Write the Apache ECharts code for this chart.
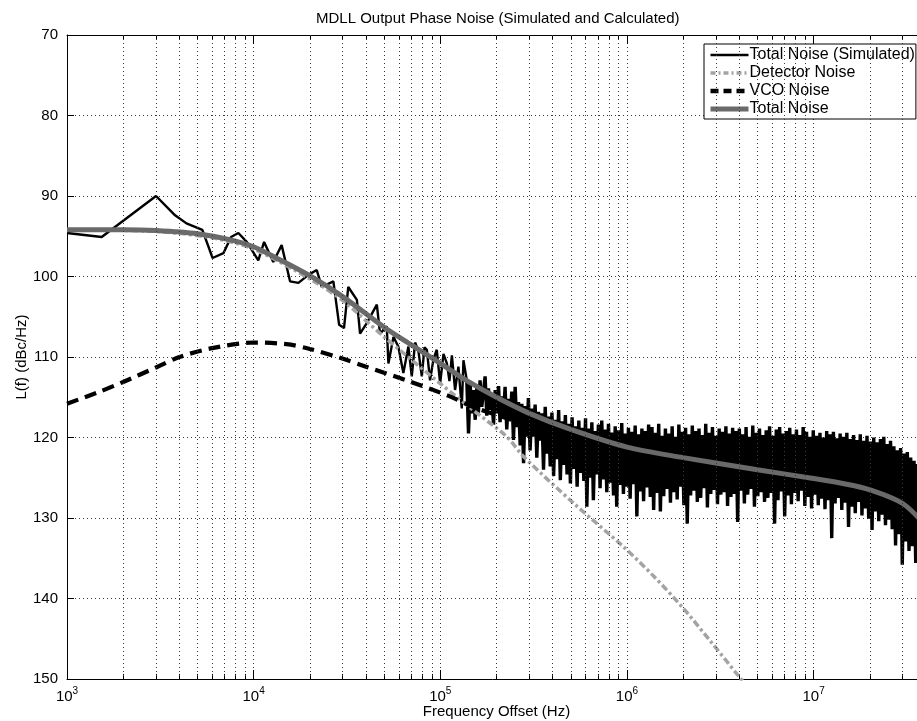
<!DOCTYPE html>
<html><head><meta charset="utf-8">
<script src="https://cdn.jsdelivr.net/npm/echarts@6/dist/echarts.min.js"></script>
<style>html,body{margin:0;padding:0;background:#fff}#c{width:917px;height:721px}</style>
</head><body><div id="c"></div>
<script>
// ---------- axis / tick data ----------
const X_MIN = 1e3, X_MAX = 4e7;
const Y_MIN = 70, Y_MAX = 150, Y_STEP = 10;
const majorTicks = [1e3, 1e4, 1e5, 1e6, 1e7];
const minorTicks = [2e3,3e3,4e3,5e3,6e3,7e3,8e3,9e3, 2e4,3e4,4e4,5e4,6e4,7e4,8e4,9e4,
  2e5,3e5,4e5,5e5,6e5,7e5,8e5,9e5, 2e6,3e6,4e6,5e6,6e6,7e6,8e6,9e6, 2e7,3e7];
const seriesNames = ['Total Noise (Simulated)', 'Detector Noise', 'VCO Noise', 'Total Noise'];

// ---------- calculated curves ----------
const totalF = [1e3, 2e3, 3e3, 5e3, 8e3, 1e4, 1.3e4, 2e4, 3e4, 5e4, 7e4, 1e5, 1.4e5, 2e5, 3e5, 5e5, 1e6, 2e6, 5e6, 1e7, 1.5e7, 2e7, 3e7, 4e7];
const totalL = [94.2, 94.2, 94.3, 94.7, 95.6, 96.3, 97.6, 99.9, 102.5, 106.3, 108.5, 110.8, 113.0, 115.0, 117.0, 119.0, 121.2, 122.5, 124.0, 125.1, 125.8, 126.5, 128.2, 131.0];

const detF = [1e3, 3e3, 6e3, 1e4, 2e4, 3e4, 5e4, 1e5, 1.5e5, 2.27e5, 2.8e5, 5.2e5, 9.6e5, 1.4e6, 2e6, 2.8e6, 4.05e6, 4.3e6];
const detL = [94.2, 94.4, 95.2, 96.6, 100.3, 103.0, 107.5, 113.3, 116.6, 119.9, 122.4, 128.2, 133.6, 137.3, 141.2, 145.3, 149.9, 150.6];

const vcoF = [1e3, 1.5e3, 2e3, 3e3, 4e3, 6e3, 1e4, 1.5e4, 2e4, 2.9e4, 4e4, 6.6e4, 1.1e5, 1.5e5, 2.5e5, 3.9e5, 6e5, 1e6, 2e6, 5e6, 1e7, 2e7, 3e7, 4e7];
const vcoL = [115.8, 114.3, 113.1, 111.3, 110.0, 108.9, 108.2, 108.4, 109.0, 110.1, 111.2, 112.9, 114.8, 116.2, 117.9, 119.1, 120.2, 121.4, 122.6, 124.1, 125.2, 126.5, 128.3, 131.1];

// ---------- simulated (noisy) curve: log10(frequency) and L(f) ----------
const simLogF = [
 3.000,3.186,3.477,3.579,3.640,3.725,3.780,3.838,3.879,3.918,3.963,4.025,4.056,4.105,4.150,4.195,4.240,4.293,4.338,4.365,
 4.427,4.458,4.484,4.507,4.553,4.570,4.606,4.660,4.677,4.713,4.722,4.749,4.775,4.802,4.829,4.847,4.865,4.883,4.901,4.915,
 4.928,4.945,4.963,4.981,4.999,5.017,5.035,5.049,5.062,5.079,5.097,5.115,5.124,5.142,5.151,5.160,5.169,5.178,5.187,5.196,
 5.204,5.213,5.222,5.231,5.240,5.249,5.258,5.267,5.276,5.285,5.294,5.303,5.312,5.320,5.329,5.338,5.347,5.356,5.365,5.374,
 5.383,5.392,5.401,5.410,5.419,5.428,5.437,5.446,5.454,5.463,5.472,5.481,5.490,5.499,5.508,5.517,5.526,5.535,5.544,5.553,
 5.562,5.571,5.580,5.589,5.598,5.607,5.616,5.625,5.634,5.643,5.652,5.661,5.670,5.679,5.688,5.697,5.706,5.715,5.724,5.733,
 5.742,5.751,5.760,5.769,5.778,5.785,5.794,5.803,5.812,5.820,5.829,5.838,5.847,5.856,5.865,5.874,5.883,5.892,5.901,5.910,
 5.919,5.928,5.937,5.945,5.954,5.963,5.972,5.981,5.990,5.999,6.008,6.017,6.026,6.035,6.044,6.053,6.062,6.071,6.080,6.089,
 6.098,6.107,6.116,6.125,6.134,6.143,6.152,6.161,6.170,6.179,6.188,6.197,6.206,6.215,6.224,6.233,6.242,6.251,6.260,6.269,
 6.278,6.287,6.296,6.305,6.314,6.323,6.332,6.341,6.350,6.359,6.368,6.377,6.386,6.395,6.404,6.413,6.422,6.431,6.440,6.449,
 6.458,6.467,6.476,6.485,6.494,6.503,6.512,6.521,6.530,6.539,6.548,6.557,6.566,6.575,6.584,6.593,6.602,6.611,6.620,6.629,
 6.638,6.647,6.656,6.665,6.674,6.683,6.692,6.701,6.710,6.719,6.728,6.737,6.746,6.755,6.764,6.773,6.782,6.791,6.800,6.809,
 6.818,6.827,6.836,6.845,6.854,6.863,6.872,6.881,6.890,6.899,6.908,6.917,6.926,6.935,6.944,6.953,6.962,6.971,6.980,6.989,
 6.998,7.007,7.016,7.025,7.034,7.043,7.052,7.061,7.070,7.079,7.088,7.097,7.106,7.115,7.124,7.133,7.142,7.151,7.160,7.169,
 7.178,7.187,7.196,7.205,7.214,7.223,7.232,7.241,7.250,7.259,7.268,7.277,7.286,7.295,7.304,7.313,7.322,7.331,7.340,7.349,
 7.358,7.367,7.376,7.385,7.394,7.403,7.412,7.421,7.430,7.439,7.448,7.457,7.466,7.475,7.484,7.493,7.502,7.511,7.520,7.529,
 7.538,7.547,7.556,7.565,7.574,7.583
];
const simL = [
 94.6,95.1,90.0,92.4,93.4,94.2,97.7,97.1,95.1,94.6,95.7,98.0,95.7,98.2,96.1,100.6,100.8,99.8,99.2,101.3,
 100.6,106.0,106.4,101.3,102.9,107.1,105.8,103.5,107.1,106.2,110.8,107.5,108.7,112.0,108.7,112.4,108.2,109.3,112.4,108.8,
 109.1,112.9,110.3,109.1,113.3,109.6,110.8,113.0,109.8,114.1,111.2,116.4,110.4,112.9,119.5,113.4,117.0,114.1,117.8,113.6,
 116.9,112.9,116.2,114.4,112.4,117.3,113.9,116.6,114.8,118.4,114.1,117.0,113.6,118.1,114.9,117.6,113.7,119.0,115.2,117.8,
 114.3,120.3,113.7,118.7,115.6,121.0,115.8,123.2,116.1,119.9,115.1,121.6,116.4,119.9,115.9,122.5,116.8,120.4,117.0,124.0,
 116.2,122.0,117.4,123.6,116.9,124.8,117.8,122.7,116.6,125.3,118.0,123.4,117.2,124.6,118.3,125.7,117.5,123.9,118.6,126.1,
 117.9,124.4,118.8,125.4,117.6,128.6,118.9,125.0,118.1,127.8,119.2,124.6,118.4,126.3,117.9,125.2,119.0,126.8,118.3,125.6,
 119.4,127.2,118.6,128.6,119.1,125.9,118.2,127.0,119.5,126.1,118.8,127.6,119.3,125.8,118.5,129.8,119.6,126.7,118.9,127.9,
 119.2,126.2,118.4,127.4,118.7,129.0,119.4,126.9,118.3,129.2,119.8,127.3,118.9,126.4,119.5,128.1,118.6,126.8,119.9,127.7,
 118.4,126.1,119.3,128.4,118.8,130.7,119.6,127.2,118.5,126.6,119.2,128.0,118.9,127.5,119.7,126.3,118.3,128.7,119.4,127.0,
 118.7,126.5,119.8,128.3,118.9,127.1,119.3,126.8,118.6,128.5,119.5,127.4,118.8,127.0,119.2,130.5,118.9,126.6,119.6,128.2,
 118.7,127.1,119.9,126.4,118.5,128.6,119.4,127.3,118.9,126.8,119.7,128.0,119.1,127.5,118.6,126.9,119.8,130.7,119.0,127.8,
 118.7,126.7,119.5,129.8,119.2,127.2,118.8,128.3,119.6,126.9,119.0,127.9,119.7,126.6,118.7,128.5,119.3,127.4,119.9,128.8,
 119.1,127.1,119.8,128.4,119.4,127.6,120.0,128.9,119.2,127.8,119.6,132.5,119.3,128.2,120.1,127.5,119.5,129.0,119.9,128.1,
 119.4,131.1,120.2,128.6,119.7,129.4,120.3,128.0,119.6,129.7,120.4,128.8,119.8,130.1,120.5,131.5,120.0,129.2,120.6,130.4,
 120.2,129.6,119.9,130.9,120.8,130.2,120.4,131.4,121.1,133.4,121.6,132.0,121.3,135.8,122.0,132.9,121.8,134.1,122.5,133.5,
 122.9,135.6,123.3,134.5,123.8,135.2
];
// the simulated trace becomes a dense noise band from this log10(f) on
const DENSE_FROM = 5.142;

// ---------- build series data ----------
const pairs = (xs, ys) => xs.map((x, i) => [x, ys[i]]);
const simAll = simLogF.map((e, i) => [e, Math.pow(10, e), simL[i]]);
const simSparse = simAll.filter(p => p[0] <= DENSE_FROM).map(p => [p[1], p[2]]);
const simDense = simAll.filter(p => p[0] >= DENSE_FROM).map(p => [p[1], p[2]]);

const FONT = 'Liberation Sans, Arial, Helvetica, sans-serif';
const INK = '#000';
const DET_COLOR = '#a3a3a3', TOT_COLOR = '#6a6a6a';
const gridDot = { type: [1, 3], color: '#3a3a3a', width: 1 };
const xBase = { type: 'log', logBase: 10, min: X_MIN, max: X_MAX, gridIndex: 0 };

const chart = echarts.init(document.getElementById('c'), null, { renderer: 'canvas' });
chart.setOption({
  animation: false,
  backgroundColor: '#fff',
  textStyle: { fontFamily: FONT },
  title: {
    text: 'MDLL Output Phase Noise (Simulated and Calculated)',
    left: 311, top: 6,
    textStyle: { fontSize: 15, fontWeight: 'normal', color: INK, fontFamily: FONT }
  },
  grid: { left: 67, width: 859, top: 35, bottom: 42, containLabel: false, outerBoundsMode: 'none' },
  legend: {
    orient: 'vertical', left: 704, top: 44,
    padding: [3, 1, 2, 4], itemGap: 2, itemWidth: 38, itemHeight: 16,
    backgroundColor: '#fff', borderColor: INK, borderWidth: 1, borderRadius: 0,
    itemStyle: { opacity: 0 },
    textStyle: { fontSize: 16, lineHeight: 16, color: INK, fontFamily: FONT, padding: [0, 0, 0, -4] },
    data: [
      { name: seriesNames[0], lineStyle: { width: 2.5 } },
      { name: seriesNames[1], lineStyle: { width: 3.5, type: [5, 3, 2, 3] } },
      { name: seriesNames[2], lineStyle: { width: 4.5, type: [8, 5] } },
      { name: seriesNames[3], lineStyle: { width: 5 } }
    ]
  },
  xAxis: [
    Object.assign({}, xBase, {
      position: 'bottom',
      name: 'Frequency Offset (Hz)', nameLocation: 'middle', nameGap: 25, nameMoveOverlap: false,
      nameTextStyle: { fontSize: 15, color: INK, fontFamily: FONT },
      axisLine: { show: true, onZero: false, lineStyle: { color: INK, width: 1 } },
      axisTick: { show: true, inside: true, length: 9, customValues: majorTicks, lineStyle: { color: INK } },
      axisLabel: {
        customValues: majorTicks, margin: 7, color: INK,
        formatter: v => '{b|10}{s|' + Math.round(Math.log10(v)) + '}',
        rich: {
          b: { fontSize: 15, lineHeight: 18, verticalAlign: 'bottom', color: INK, fontFamily: FONT },
          s: { fontSize: 10, lineHeight: 10, verticalAlign: 'top', color: INK, fontFamily: FONT }
        }
      },
      splitLine: { show: true, lineStyle: gridDot }
    }),
    Object.assign({}, xBase, {
      position: 'bottom',
      axisLine: { show: false, onZero: false },
      axisTick: { show: true, inside: true, length: 5, customValues: minorTicks, lineStyle: { color: INK } },
      axisLabel: { show: false }, splitLine: { show: false }
    }),
    Object.assign({}, xBase, {
      position: 'top',
      axisLine: { show: true, onZero: false, lineStyle: { color: INK, width: 1 } },
      axisTick: { show: true, inside: true, length: 9, customValues: majorTicks, lineStyle: { color: INK } },
      axisLabel: { show: false }, splitLine: { show: false }
    }),
    Object.assign({}, xBase, {
      position: 'top',
      axisLine: { show: false, onZero: false },
      axisTick: { show: true, inside: true, length: 5, customValues: minorTicks, lineStyle: { color: INK } },
      axisLabel: { show: false }, splitLine: { show: false }
    })
  ],
  yAxis: {
    type: 'value', inverse: true, min: Y_MIN, max: Y_MAX, interval: Y_STEP,
    name: 'L(f) (dBc/Hz)', nameLocation: 'middle', nameGap: 38, nameMoveOverlap: false,
    nameTextStyle: { fontSize: 15, color: INK, fontFamily: FONT },
    axisLine: { show: true, onZero: false, lineStyle: { color: INK, width: 1 } },
    axisTick: { show: true, inside: true, length: 7, lineStyle: { color: INK } },
    axisLabel: { fontSize: 15, color: INK, margin: 9, fontFamily: FONT },
    splitLine: { show: true, lineStyle: gridDot }
  },
  series: [
    {
      name: '_grid', type: 'line', data: [], silent: true, z: 1,
      markLine: {
        silent: true, symbol: ['none', 'none'], label: { show: false }, animation: false,
        lineStyle: gridDot,
        emphasis: { disabled: true },
        data: minorTicks.map(v => ({ xAxis: v }))
      }
    },
    {
      name: seriesNames[0], type: 'line', data: simSparse, showSymbol: false, symbol: 'circle',
      lineStyle: { color: INK, width: 2.4, join: 'bevel' }, itemStyle: { color: INK }, z: 2
    },
    {
      name: seriesNames[0], type: 'line', data: simDense, showSymbol: false, symbol: 'circle',
      lineStyle: { color: INK, width: 3.4, join: 'bevel' }, itemStyle: { color: INK }, z: 2
    },
    {
      name: seriesNames[1], type: 'line', data: pairs(detF, detL), showSymbol: false, symbol: 'circle', smooth: 0.3,
      lineStyle: { color: DET_COLOR, width: 3.5, type: [7, 3, 3, 3] }, itemStyle: { color: DET_COLOR }, z: 3
    },
    {
      name: seriesNames[2], type: 'line', data: pairs(vcoF, vcoL), showSymbol: false, symbol: 'circle', smooth: 0.3,
      lineStyle: { color: INK, width: 4.2, type: [12, 7], cap: 'butt' }, itemStyle: { color: INK }, z: 3
    },
    {
      name: seriesNames[3], type: 'line', data: pairs(totalF, totalL), showSymbol: false, symbol: 'circle', smooth: 0.3,
      lineStyle: { color: TOT_COLOR, width: 5 }, itemStyle: { color: TOT_COLOR }, z: 4
    }
  ]
});
</script>
</body></html>
